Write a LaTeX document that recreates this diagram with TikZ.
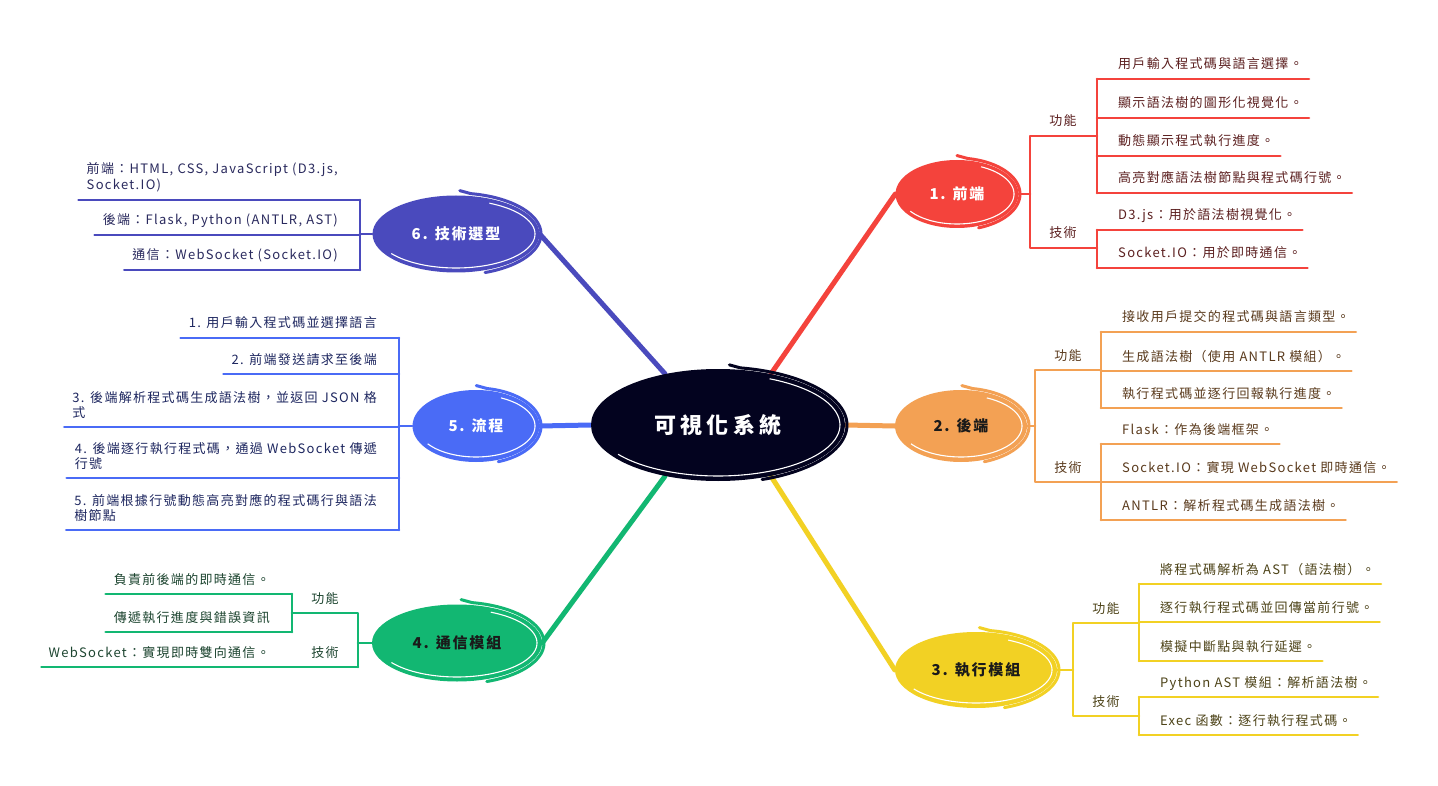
\documentclass[tikz,border=0pt]{standalone}
\usepackage{fontspec}
\setmainfont{Noto Sans CJK TC}
\newfontfamily\leaffnt[LetterSpace=10]{Noto Sans CJK TC}
\newfontfamily\headfnt[LetterSpace=12]{Noto Sans CJK TC}
\newfontfamily\ctrfnt[LetterSpace=20]{Noto Sans CJK TC}
\usetikzlibrary{shapes.geometric,calc,backgrounds}
\definecolor{cnav}{HTML}{03031F}
\definecolor{cred}{HTML}{F4433C}
\definecolor{corg}{HTML}{F3A154}
\definecolor{cyel}{HTML}{F2D124}
\definecolor{cgrn}{HTML}{12B772}
\definecolor{cblu}{HTML}{4A6BF6}
\definecolor{cind}{HTML}{4A4ABD}
\definecolor{tred}{HTML}{5C2020}
\definecolor{torg}{HTML}{5A3A1C}
\definecolor{tyel}{HTML}{4D4318}
\definecolor{tgrn}{HTML}{1D4530}
\definecolor{tblu}{HTML}{1E2760}
\definecolor{tind}{HTML}{2A2A5E}
\definecolor{tdark}{HTML}{1A1A1A}
\tikzset{
  mainnode/.style={ellipse, inner sep=0pt, font=\headfnt\bfseries\fontsize{15}{18}\selectfont},
  conn/.style={line width=5pt, line cap=round},
  bline/.style={line width=2.6pt, line cap=round, line join=round},
  leaf/.style={inner sep=0pt, font=\leaffnt\fontsize{13}{15.5}\selectfont},
  catlbl/.style={inner sep=0pt, anchor=base, font=\leaffnt\fontsize{13}{15.5}\selectfont},
}
% name, x, y, line colour, text colour, text
\newcommand\rleaf[6]{%
  \node[leaf, text=#5, anchor=base west] (#1) at ({#2+21},{#3-10}) {#6};
  \coordinate (#1e) at ($(#1.east)+(6pt,0pt)$);
  \draw[bline, #4] (#2,#3) -- (#1e |- 0,#3);
}
\newcommand\lleaf[6]{%
  \node[leaf, text=#5, anchor=base east] (#1) at ({#2-22},{#3-10}) {#6};
  \coordinate (#1w) at ($(#1.west)+(-8pt,0pt)$);
  \draw[bline, #4] (#2,#3) -- (#1w |- 0,#3);
}
\newcommand\mleaf[6]{%
  \node[leaf, text=#5, anchor=south east, align=left] (#1) at ({#2-22},{#3-8}) {#6};
  \coordinate (#1w) at ($(#1.west)+(-8pt,0pt)$);
  \draw[bline, #4] (#2,#3) -- (#1w |- 0,#3);
}
% node, colour, white rx, white ry, outer rx, outer ry
\newcommand\sketchdecor[6]{%
  \draw[white, line width=1.1pt, shift={(#1.center)}]
    plot[domain=215:425, samples=60, smooth] (\x:#3pt and #4pt);
  \draw[#2, line width=3pt, line cap=round, shift={(#1.center)}]
    plot[domain=-70:80, samples=50, smooth] (\x:#5pt and #6pt) -- ++(-11pt,3pt);
}
\begin{document}
\begin{tikzpicture}[x=1pt,y=-1pt]
\useasboundingbox (0,0) rectangle (1438,786);

% main nodes
\node[mainnode, fill=cnav, text=white, minimum width=254pt, minimum height=112pt,
      font=\ctrfnt\bfseries\fontsize{22}{26}\selectfont] (central) at (718,425) {可視化系統};
\node[mainnode, fill=cred, text=white, minimum width=123pt, minimum height=68pt] (n1) at (957,194) {1. 前端};
\node[mainnode, fill=corg, text=tdark, minimum width=132pt, minimum height=72pt] (n2) at (961,426) {2. 後端};
\node[mainnode, fill=cyel, text=tdark, minimum width=162pt, minimum height=76pt] (n3) at (976,670) {3. 執行模組};
\node[mainnode, fill=cgrn, text=tdark, minimum width=170pt, minimum height=77pt] (n4) at (457,643) {4. 通信模組};
\node[mainnode, fill=cblu, text=white, minimum width=127pt, minimum height=72pt] (n5) at (476,426) {5. 流程};
\node[mainnode, fill=cind, text=white, minimum width=167pt, minimum height=77pt] (n6) at (456,234) {6. 技術選型};

\sketchdecor{central}{cnav}{122}{51}{129}{58}
\sketchdecor{n1}{cred}{57}{30}{63}{36}
\sketchdecor{n2}{corg}{61}{31}{68}{38}
\sketchdecor{n3}{cyel}{76}{33}{83}{40}
\sketchdecor{n4}{cgrn}{80}{34}{87}{41}
\sketchdecor{n5}{cblu}{59}{31}{65}{38}
\sketchdecor{n6}{cind}{79}{34}{85}{41}

\begin{scope}[on background layer]
  \fill[white] (0,0) rectangle (1438,786);
  \draw[conn, cred] (central.44) -- (n1.west);
  \draw[conn, corg] (central.east) -- (n2.west);
  \draw[conn, cyel] (central.-44) -- (n3.west);
  \draw[conn, cgrn] (central.224) -- (n4.east);
  \draw[conn, cblu] (central.west) -- (n5.east);
  \draw[conn, cind] (central.136) -- (n6.east);
\end{scope}

% ---------- 1. 前端 ----------
\draw[bline, cred] (n1.east) -- (n1.east -| 1030,0);
\draw[bline, cred] (1097,136) -- (1030,136) -- (1030,248) -- (1097,248);
\draw[bline, cred] (1097,79) -- (1097,193);
\draw[bline, cred] (1097,230) -- (1097,268);
\node[catlbl, text=tred] (r-fn) at (1063,126) {功能};
\node[catlbl, text=tred] (r-js) at (1063,238) {技術};
\rleaf{ra}{1097}{79}{cred}{tred}{用戶輸入程式碼與語言選擇。}
\rleaf{rb}{1097}{118}{cred}{tred}{顯示語法樹的圖形化視覺化。}
\rleaf{rc}{1097}{156}{cred}{tred}{動態顯示程式執行進度。}
\rleaf{rd}{1097}{193}{cred}{tred}{高亮對應語法樹節點與程式碼行號。}
\rleaf{re}{1097}{230}{cred}{tred}{D3.js：用於語法樹視覺化。}
\rleaf{rf}{1097}{268}{cred}{tred}{Socket.IO：用於即時通信。}

% ---------- 2. 後端 ----------
\draw[bline, corg] (n2.east) -- (n2.east -| 1035,0);
\draw[bline, corg] (1101,370) -- (1035,370) -- (1035,482) -- (1101,482);
\draw[bline, corg] (1101,332) -- (1101,408);
\draw[bline, corg] (1101,444) -- (1101,520);
\node[catlbl, text=torg] (o-fn) at (1068,360) {功能};
\node[catlbl, text=torg] (o-js) at (1068,472) {技術};
\rleaf{oa}{1101}{332}{corg}{torg}{接收用戶提交的程式碼與語言類型。}
\rleaf{ob}{1101}{371}{corg}{torg}{生成語法樹（使用 ANTLR 模組）。}
\rleaf{oc}{1101}{408}{corg}{torg}{執行程式碼並逐行回報執行進度。}
\rleaf{od}{1101}{444}{corg}{torg}{Flask：作為後端框架。}
\rleaf{oe}{1101}{482}{corg}{torg}{Socket.IO：實現 WebSocket 即時通信。}
\rleaf{of}{1101}{520}{corg}{torg}{ANTLR：解析程式碼生成語法樹。}

% ---------- 3. 執行模組 ----------
\draw[bline, cyel] (n3.east) -- (n3.east -| 1073,0);
\draw[bline, cyel] (1139,623) -- (1073,623) -- (1073,716) -- (1139,716);
\draw[bline, cyel] (1139,584) -- (1139,661);
\draw[bline, cyel] (1139,697) -- (1139,735);
\node[catlbl, text=tyel] (y-fn) at (1106,613) {功能};
\node[catlbl, text=tyel] (y-js) at (1106,706) {技術};
\rleaf{ya}{1139}{584}{cyel}{tyel}{將程式碼解析為 AST（語法樹）。}
\rleaf{yb}{1139}{622}{cyel}{tyel}{逐行執行程式碼並回傳當前行號。}
\rleaf{yc}{1139}{661}{cyel}{tyel}{模擬中斷點與執行延遲。}
\rleaf{yd}{1139}{697}{cyel}{tyel}{Python AST 模組：解析語法樹。}
\rleaf{ye}{1139}{735}{cyel}{tyel}{Exec 函數：逐行執行程式碼。}

% ---------- 4. 通信模組 ----------
\draw[bline, cgrn] (n4.west) -- (n4.west -| 358,0);
\draw[bline, cgrn] (292,613) -- (358,613) -- (358,667);
\draw[bline, cgrn] (292,594) -- (292,632);
\node[catlbl, text=tgrn] (g-fn) at (325,603) {功能};
\node[catlbl, text=tgrn] (g-js) at (325,657) {技術};
\lleaf{ga}{292}{594}{cgrn}{tgrn}{負責前後端的即時通信。}
\lleaf{gb}{292}{632}{cgrn}{tgrn}{傳遞執行進度與錯誤資訊}
\node[leaf, text=tgrn, anchor=base east] (gc) at (270,657) {WebSocket：實現即時雙向通信。};
\coordinate (gcw) at ($(gc.west)+(-7pt,0pt)$);
\draw[bline, cgrn] (358,667) -- (gcw |- 0,667);

% ---------- 5. 流程 ----------
\draw[bline, cblu] (n5.west) -- (n5.west -| 399,0);
\draw[bline, cblu] (399,338) -- (399,530);
\lleaf{ba}{399}{338}{cblu}{tblu}{1. 用戶輸入程式碼並選擇語言}
\lleaf{bb}{399}{374}{cblu}{tblu}{2. 前端發送請求至後端}
\mleaf{bc}{399}{427}{cblu}{tblu}{3. 後端解析程式碼生成語法樹，並返回 JSON 格\\式}
\mleaf{bd}{399}{478}{cblu}{tblu}{4. 後端逐行執行程式碼，通過 WebSocket 傳遞\\行號}
\mleaf{be}{399}{530}{cblu}{tblu}{5. 前端根據行號動態高亮對應的程式碼行與語法\\樹節點}

% ---------- 6. 技術選型 ----------
\draw[bline, cind] (n6.west) -- (n6.west -| 360,0);
\draw[bline, cind] (360,200) -- (360,270);
\mleaf{ia}{360}{200}{cind}{tind}{前端：HTML, CSS, JavaScript (D3.js,\\Socket.IO)}
\lleaf{ib}{360}{235}{cind}{tind}{後端：Flask, Python (ANTLR, AST)}
\lleaf{ic}{360}{270}{cind}{tind}{通信：WebSocket (Socket.IO)}
\end{tikzpicture}
\end{document}
